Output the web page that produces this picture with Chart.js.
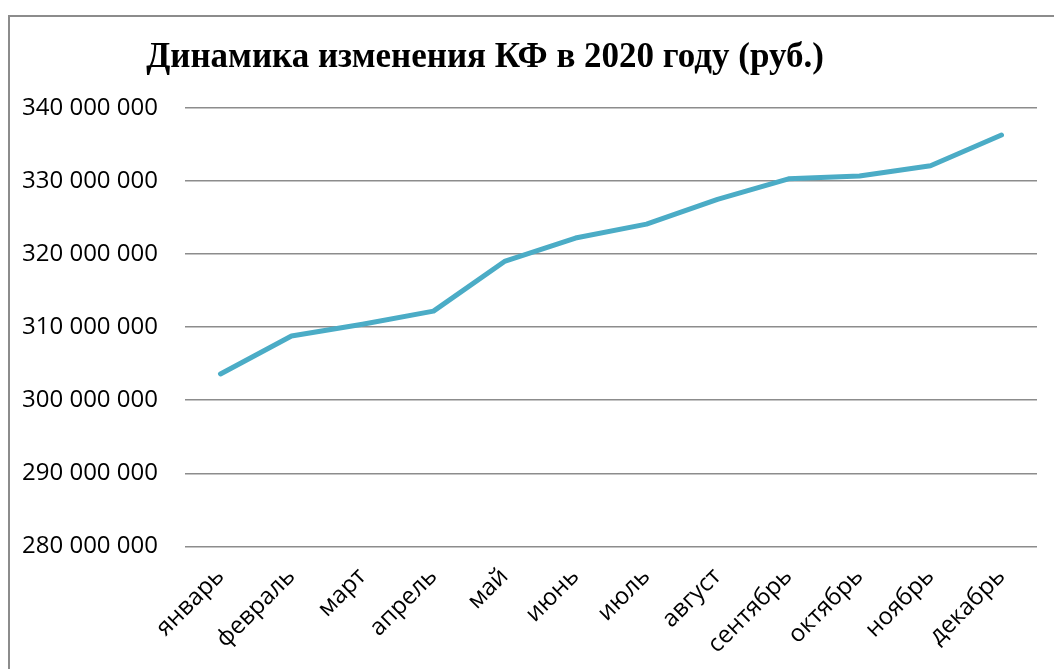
<!DOCTYPE html>
<html>
<head>
<meta charset="utf-8">
<script src="https://cdn.jsdelivr.net/npm/chart.js@4.4.0/dist/chart.umd.min.js"></script>
<style>
    html, body { margin: 0; padding: 0; background: #fff; overflow: hidden; }
    #frame { position: absolute; left: 8px; top: 15px; width: 1100px; height: 700px;
             border-left: 2px solid #8c8c8c; border-top: 2px solid #8c8c8c; }
    #wrap { position: absolute; left: -5px; top: 0; width: 1059px; height: 669px; }
</style>
</head>
<body>
<div id="frame"></div>
<div id="wrap"><canvas id="kfGraph" width="1059" height="669"></canvas></div>
<script>
// ---- Données ----
const titre = "Динамика изменения КФ в 2020 году (руб.)";
const mois = ["январь", "февраль", "март", "апрель", "май", "июнь",
              "июль", "август", "сентябрь", "октябрь", "ноябрь", "декабрь"];
const valeursKF = [303600000, 308800000, 310400000, 312200000, 319000000, 322200000,
                   324100000, 327500000, 330300000, 330700000, 332100000, 336300000];
const yMin = 280000000;
const yMax = 340000000;
const yPas = 10000000;

function formatNombre(v){
    return String(v).replace(/\B(?=(\d{3})+(?!\d))/g, " ");
}

// titre dessiné à la main (décalé à gauche comme dans Excel)
const titrePlugin = {
    id: "titreKF",
    afterDraw(chart){
        const ctx = chart.ctx;
        ctx.save();
        ctx.font = "bold 35px 'Liberation Serif'";
        ctx.fillStyle = "#000";
        ctx.textAlign = "center";
        ctx.textBaseline = "middle";
        ctx.fillText(titre, 490, 58);
        ctx.restore();
    }
};

var kf = new Chart(document.getElementById("kfGraph"),
{
    type: "line",
    data : {
        labels : mois,
        datasets : [{
            label: "КФ",
            data : valeursKF,
            borderColor : "#4bacc6",
            borderWidth: 5,
            borderCapStyle: "round",
            borderJoinStyle: "round",
            pointRadius: 0,
            tension: 0
        }]
    },
    options: {
        responsive: false,
        animation: false,
        layout: { padding: { left: 0, right: 17, top: 108, bottom: 2 } },
        plugins: {
            legend: { display: false },
            tooltip: { enabled: false },
            title: { display: false }
        },
        scales: {
            x: {
                offset: true,
                grid: { display: false },
                border: { display: false },
                ticks: {
                    color: "#000",
                    font: { family: "'Open Sans'", size: 24 },
                    minRotation: 45,
                    maxRotation: 45,
                    padding: 8
                }
            },
            y: {
                min: yMin,
                max: yMax,
                grid: { color: "#8c8c8c", lineWidth: 1.5, drawTicks: false },
                border: { display: false },
                ticks: {
                    stepSize: yPas,
                    color: "#000",
                    font: { family: "'Open Sans'", size: 24 },
                    padding: 27,
                    callback: (v) => formatNombre(v)
                }
            }
        }
    },
    plugins: [titrePlugin]
});
</script>
</body>
</html>
